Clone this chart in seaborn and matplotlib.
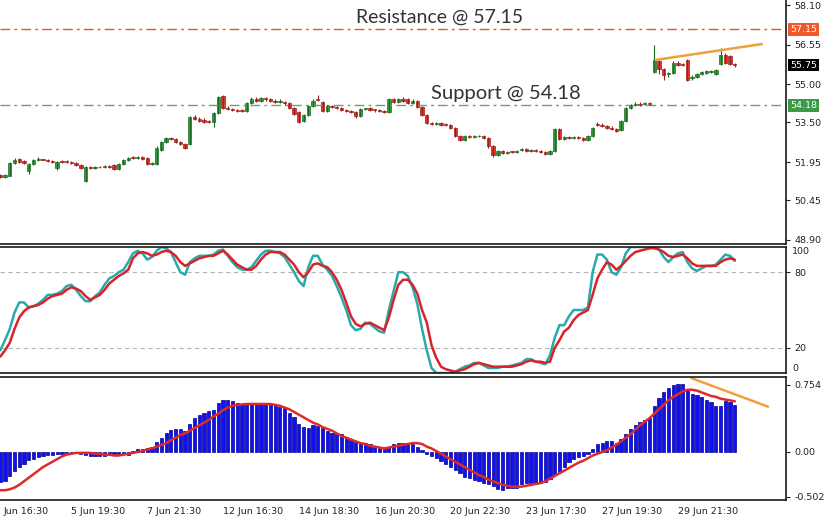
import matplotlib
matplotlib.use('Agg')
import matplotlib.pyplot as plt
import matplotlib.transforms as mtransforms
import numpy as np
import seaborn as sns

# Candles (2h bars)
open_ = [
    51.46, 51.38, 51.42, 51.90, 52.06, 51.98, 51.60, 51.86, 52.02, 52.06,
    52.04, 51.98, 51.70, 52.00, 51.98, 51.94, 51.90, 51.84, 51.22, 51.76,
    51.72, 51.76, 51.74, 51.80, 51.84, 51.66, 51.86, 52.04, 52.12, 52.10,
    52.14, 52.10, 51.88, 51.86, 52.42, 52.74, 52.90, 52.84, 52.74, 52.64,
    52.64, 53.72, 53.62, 53.60, 53.54, 53.50, 53.86, 54.52, 54.08, 54.04,
    54.00, 53.98, 53.96, 54.26, 54.40, 54.36, 54.44, 54.42, 54.36, 54.30,
    54.32, 54.26, 54.06, 53.92, 53.54, 53.80, 54.14, 54.40, 54.30, 53.96,
    54.14, 54.10, 54.06, 54.00, 53.96, 53.92, 53.74, 54.02, 54.06, 54.00,
    53.98, 53.96, 53.90, 54.40, 54.30, 54.42, 54.40, 54.28, 54.34, 54.10,
    53.80, 53.48, 53.44, 53.46, 53.44, 53.40, 53.30, 52.98, 52.82, 52.96,
    52.94, 52.96, 52.98, 52.90, 52.56, 52.24, 52.40, 52.30, 52.36, 52.34,
    52.42, 52.46, 52.40, 52.44, 52.38, 52.34, 52.28, 52.40, 53.24, 52.86,
    52.92, 52.90, 52.94, 52.88, 52.82, 52.96, 53.44, 53.40, 53.36, 53.30,
    53.26, 53.20, 53.56, 54.08, 54.18, 54.24, 54.22, 54.26, 55.48, 55.92,
    55.60, 55.38, 55.44, 55.84, 55.80, 55.94, 55.26, 55.30, 55.40, 55.44,
    55.48, 55.40, 55.80, 56.16, 56.10, 55.80]
close = [
    51.38, 51.44, 51.90, 52.04, 51.96, 51.90, 51.86, 52.04, 52.08, 52.04,
    51.98, 51.94, 51.96, 51.96, 51.94, 51.90, 51.84, 51.72, 51.76, 51.72,
    51.76, 51.74, 51.78, 51.76, 51.66, 51.86, 52.04, 52.12, 52.10, 52.14,
    52.08, 51.88, 51.90, 52.52, 52.72, 52.90, 52.84, 52.74, 52.64, 52.50,
    53.70, 53.62, 53.56, 53.52, 53.50, 53.86, 54.50, 54.08, 54.02, 53.98,
    53.96, 53.96, 54.26, 54.40, 54.36, 54.44, 54.40, 54.36, 54.30, 54.32,
    54.26, 54.06, 53.84, 53.52, 53.80, 54.14, 54.36, 54.38, 53.96, 54.14,
    54.10, 54.08, 54.00, 53.96, 53.90, 53.74, 54.02, 54.04, 54.00, 53.98,
    53.94, 53.90, 54.40, 54.30, 54.42, 54.36, 54.28, 54.34, 54.10, 53.80,
    53.48, 53.44, 53.46, 53.42, 53.40, 53.30, 52.98, 52.80, 52.96, 52.94,
    52.96, 52.98, 52.90, 52.56, 52.22, 52.40, 52.30, 52.36, 52.34, 52.40,
    52.46, 52.40, 52.44, 52.38, 52.34, 52.26, 52.40, 53.26, 52.84, 52.92,
    52.90, 52.94, 52.88, 52.80, 52.96, 53.30, 53.40, 53.36, 53.30, 53.24,
    53.18, 53.56, 54.06, 54.18, 54.22, 54.20, 54.26, 54.22, 55.96, 55.60,
    55.36, 55.42, 55.84, 55.76, 55.74, 55.18, 55.28, 55.40, 55.46, 55.50,
    55.52, 55.56, 56.14, 55.84, 55.78, 55.75]
high = [
    51.50, 51.48, 51.95, 52.10, 52.12, 52.02, 51.90, 52.08, 52.14, 52.08,
    52.08, 52.02, 52.00, 52.04, 52.02, 51.98, 51.94, 51.88, 51.80, 51.80,
    51.80, 51.80, 51.82, 51.84, 51.88, 51.90, 52.08, 52.16, 52.20, 52.18,
    52.18, 52.14, 51.94, 52.56, 52.76, 52.94, 52.94, 52.88, 52.78, 52.68,
    53.74, 53.78, 53.70, 53.66, 53.60, 53.90, 54.54, 54.56, 54.14, 54.08,
    54.04, 54.02, 54.30, 54.50, 54.48, 54.48, 54.50, 54.46, 54.42, 54.40,
    54.36, 54.30, 54.10, 53.96, 53.84, 54.18, 54.40, 54.58, 54.34, 54.18,
    54.18, 54.14, 54.10, 54.04, 54.00, 53.96, 54.06, 54.08, 54.12, 54.04,
    54.02, 54.00, 54.44, 54.46, 54.46, 54.50, 54.44, 54.40, 54.38, 54.14,
    53.84, 53.52, 53.50, 53.50, 53.48, 53.44, 53.34, 53.02, 53.00, 53.00,
    53.00, 53.02, 53.02, 52.94, 52.60, 52.44, 52.44, 52.40, 52.40, 52.44,
    52.52, 52.50, 52.48, 52.48, 52.42, 52.38, 52.44, 53.30, 53.28, 52.96,
    52.96, 52.98, 52.98, 52.92, 53.00, 53.34, 53.50, 53.46, 53.40, 53.36,
    53.30, 53.60, 54.10, 54.22, 54.30, 54.30, 54.30, 54.30, 56.52, 55.96,
    55.64, 55.48, 55.90, 55.90, 55.84, 55.98, 55.36, 55.44, 55.50, 55.54,
    55.56, 55.60, 56.40, 56.22, 56.14, 55.84]
low = [
    51.32, 51.34, 51.40, 51.86, 51.92, 51.86, 51.50, 51.82, 51.98, 52.02,
    51.94, 51.90, 51.62, 51.92, 51.90, 51.86, 51.80, 51.68, 51.16, 51.68,
    51.68, 51.70, 51.70, 51.72, 51.62, 51.62, 51.82, 52.00, 52.06, 52.06,
    52.04, 51.84, 51.84, 51.82, 52.38, 52.70, 52.80, 52.70, 52.60, 52.46,
    52.60, 53.58, 53.52, 53.46, 53.46, 53.34, 53.82, 54.04, 53.98, 53.94,
    53.92, 53.92, 53.92, 54.22, 54.32, 54.32, 54.36, 54.32, 54.26, 54.26,
    54.20, 54.02, 53.80, 53.46, 53.50, 53.76, 54.10, 54.34, 53.92, 53.92,
    54.06, 54.04, 53.96, 53.92, 53.86, 53.68, 53.70, 53.98, 53.96, 53.92,
    53.90, 53.86, 53.86, 54.26, 54.26, 54.32, 54.24, 54.24, 54.06, 53.76,
    53.44, 53.40, 53.40, 53.38, 53.36, 53.26, 52.94, 52.76, 52.78, 52.90,
    52.90, 52.92, 52.86, 52.52, 52.16, 52.20, 52.26, 52.26, 52.30, 52.30,
    52.38, 52.36, 52.36, 52.34, 52.30, 52.22, 52.24, 52.36, 52.80, 52.82,
    52.86, 52.86, 52.84, 52.76, 52.78, 52.92, 53.36, 53.32, 53.26, 53.20,
    53.14, 53.16, 53.52, 54.04, 54.14, 54.16, 54.18, 54.18, 55.44, 55.40,
    55.16, 55.30, 55.40, 55.72, 55.70, 55.12, 55.18, 55.26, 55.36, 55.40,
    55.44, 55.36, 55.76, 55.80, 55.74, 55.68]

# Stochastic: main (teal) and signal (red)
stoch_k = [
    18, 26, 35, 48, 56, 56, 52, 53, 55, 58,
    62, 62, 63, 65, 69, 70, 66, 61, 57, 57,
    61, 64, 70, 75, 77, 80, 82, 88, 95, 97,
    95, 90, 92, 97, 100, 99, 96, 88, 80, 78,
    88, 91, 93, 93, 93, 94, 97, 98, 93, 88,
    84, 82, 82, 84, 89, 94, 97, 97, 96, 95,
    92, 86, 80, 73, 69, 84, 93, 93, 86, 82,
    77, 69, 60, 50, 38, 34, 35, 40, 39, 36,
    33, 32, 50, 65, 80, 80, 77, 68, 55, 35,
    18, 4, 0, 0, 0, 0, 1, 3, 5, 6,
    8, 8, 6, 4, 4, 4, 5, 5, 6, 7,
    8, 11, 11, 9, 8, 7, 14, 28, 38, 38,
    45, 50, 50, 50, 52, 80, 94, 94, 90, 80,
    78, 84, 95, 100, 100, 100, 100, 100, 100, 98,
    92, 88, 92, 95, 96, 88, 83, 81, 83, 85,
    85, 86, 90, 94, 93, 89]
stoch_d = [
    13, 18, 24, 35, 44, 49, 52, 53, 54, 56,
    59, 61, 62, 63, 66, 68, 67, 65, 61, 58,
    60, 62, 66, 71, 74, 77, 79, 82, 91, 95,
    96, 95, 93, 94, 96, 97, 96, 93, 88, 85,
    87, 89, 91, 92, 93, 93, 95, 97, 94, 90,
    86, 84, 82, 82, 85, 90, 94, 96, 96, 96,
    94, 90, 86, 80, 76, 80, 86, 87, 85, 84,
    80, 74, 66, 56, 45, 39, 37, 39, 40, 38,
    36, 34, 44, 58, 70, 74, 74, 70, 63, 50,
    40, 22, 12, 5, 3, 2, 1, 2, 3, 5,
    7, 8, 7, 6, 5, 5, 5, 5, 5, 6,
    7, 9, 10, 9, 9, 8, 9, 20, 26, 33,
    36, 42, 46, 48, 50, 62, 75, 82, 88, 86,
    82, 85, 89, 93, 96, 97, 98, 99, 99, 98,
    96, 93, 92, 93, 94, 91, 87, 85, 85, 85,
    85, 85, 88, 90, 91, 90]

# MACD histogram (blue) and signal (red)
macd_hist = [
    -0.34, -0.33, -0.27, -0.21, -0.17, -0.13, -0.09, -0.075, -0.06, -0.04,
    -0.03, -0.03, -0.02, -0.02, -0.015, -0.01, -0.01, -0.02, -0.03, -0.04,
    -0.05, -0.04, -0.04, -0.03, -0.03, -0.03, -0.02, -0.03, 0.01, 0.03,
    0.03, 0.05, 0.06, 0.11, 0.16, 0.21, 0.25, 0.26, 0.26, 0.24,
    0.32, 0.38, 0.42, 0.44, 0.46, 0.47, 0.55, 0.59, 0.59, 0.57,
    0.55, 0.54, 0.54, 0.54, 0.54, 0.54, 0.54, 0.54, 0.53, 0.51,
    0.49, 0.44, 0.39, 0.32, 0.28, 0.27, 0.30, 0.29, 0.27, 0.24,
    0.21, 0.21, 0.20, 0.17, 0.14, 0.11, 0.10, 0.10, 0.09, 0.06,
    0.05, 0.05, 0.06, 0.09, 0.10, 0.10, 0.10, 0.09, 0.06, 0.02,
    -0.02, -0.04, -0.07, -0.10, -0.14, -0.17, -0.20, -0.24, -0.28, -0.29,
    -0.31, -0.33, -0.35, -0.36, -0.38, -0.42, -0.43, -0.41, -0.41, -0.40,
    -0.36, -0.35, -0.35, -0.35, -0.35, -0.34, -0.30, -0.26, -0.22, -0.17,
    -0.11, -0.08, -0.06, -0.04, -0.02, 0.03, 0.09, 0.10, 0.12, 0.12,
    0.10, 0.15, 0.20, 0.26, 0.30, 0.34, 0.36, 0.38, 0.52, 0.61,
    0.67, 0.72, 0.75, 0.76, 0.76, 0.71, 0.65, 0.64, 0.62, 0.58,
    0.56, 0.52, 0.52, 0.57, 0.56, 0.53]
macd_signal = [
    -0.43, -0.43, -0.42, -0.40, -0.37, -0.33, -0.29, -0.25, -0.21, -0.17,
    -0.14, -0.11, -0.08, -0.05, -0.03, -0.02, -0.01, -0.01, -0.01, -0.01,
    -0.02, -0.02, -0.03, -0.03, -0.04, -0.04, -0.03, -0.02, -0.01, 0.00,
    0.01, 0.03, 0.04, 0.06, 0.08, 0.10, 0.13, 0.16, 0.19, 0.21,
    0.24, 0.27, 0.30, 0.33, 0.36, 0.40, 0.43, 0.47, 0.50, 0.52,
    0.53, 0.535, 0.54, 0.54, 0.54, 0.54, 0.54, 0.54, 0.53, 0.52,
    0.50, 0.48, 0.45, 0.42, 0.39, 0.36, 0.33, 0.31, 0.28, 0.26,
    0.24, 0.21, 0.18, 0.16, 0.14, 0.12, 0.10, 0.09, 0.07, 0.06,
    0.05, 0.04, 0.05, 0.06, 0.07, 0.08, 0.09, 0.10, 0.10, 0.09,
    0.06, 0.04, 0.01, -0.02, -0.05, -0.08, -0.11, -0.14, -0.17, -0.20,
    -0.23, -0.26, -0.28, -0.31, -0.33, -0.35, -0.37, -0.38, -0.39, -0.39,
    -0.39, -0.38, -0.37, -0.36, -0.35, -0.33, -0.30, -0.27, -0.24, -0.21,
    -0.18, -0.15, -0.12, -0.10, -0.07, -0.04, -0.02, 0.00, 0.02, 0.05,
    0.08, 0.12, 0.16, 0.20, 0.25, 0.30, 0.34, 0.38, 0.43, 0.48,
    0.53, 0.58, 0.62, 0.65, 0.68, 0.70, 0.70, 0.69, 0.67, 0.65,
    0.63, 0.62, 0.60, 0.59, 0.58, 0.57]

# levels, trend lines and axis labels
resistance = 57.15
support = 54.18
last_price = 55.75
price_trend_x = [138.3, 160.7]
price_trend_y = [55.95, 56.57]
macd_trend_x = [145.9, 162.0]
macd_trend_y = [0.83, 0.51]
price_ticks = [58.10, 56.55, 55.00, 53.50, 51.95, 50.45, 48.90]
macd_ticks = [0.754, 0.00, -0.502]
# first label is cut by the left edge in the original, only its visible part is kept
date_pos = [0.6, 15, 31, 47, 63, 79, 95, 111, 127, 143]
date_labels = ['Jun 16:30', '5 Jun 19:30', '7 Jun 21:30', '12 Jun 16:30',
               '14 Jun 18:30', '16 Jun 20:30', '20 Jun 22:30', '23 Jun 17:30',
               '27 Jun 19:30', '29 Jun 21:30']

sns.set_style('white')
plt.rcParams['font.family'] = ['DejaVu Sans']

bull, bear = '#2f9e3a', '#e0322b'
label_size = 6.8
idx = np.arange(len(close))
o = np.array(open_)
c = np.array(close)

fig = plt.figure(figsize=(8.27, 5.20), dpi=100)
ax_p = fig.add_axes([0.0, 0.5308, 0.9504, 0.4692])
ax_s = fig.add_axes([0.0, 0.2827, 0.9504, 0.2423])
ax_m = fig.add_axes([0.0, 0.0385, 0.9504, 0.2365])

# --- price panel with candles
ax_p.axhline(resistance, color='#e4572e', lw=1, ls=(0, (7, 3, 2, 3)))
ax_p.axhline(support, color='#6f9f6f', lw=1, ls=(0, (7, 3, 2, 3)))
up = c >= o
cols = np.where(up, bull, bear)
edges = np.where(up, '#1d6b24', '#9c1f1a')
ax_p.vlines(idx, low, high, colors=edges, lw=0.8)
body = np.maximum(np.abs(c - o), 0.03)
ax_p.bar(idx, body, bottom=np.minimum(o, c), width=0.7, color=cols,
         edgecolor=edges, linewidth=0.5)
ax_p.plot(price_trend_x, price_trend_y, color='#f0a03a', lw=1.8)
ax_p.set_ylim(48.742, 58.296)
ax_p.text(92.8, 57.62, 'Resistance @ 57.15', fontsize=14, family='Lato',
          color='#333333', ha='center', va='center')
ax_p.text(106.7, 54.65, 'Support @ 54.18', fontsize=14.6, family='Lato',
          color='#333333', ha='center', va='center')
ax_p.set_yticks(price_ticks, [f'{v:.2f}' for v in price_ticks])
trans = mtransforms.blended_transform_factory(ax_p.transAxes, ax_p.transData)
for val, fc in [(resistance, '#ef5a2b'), (last_price, '#000000'), (support, '#3a9a45')]:
    ax_p.text(1.005, val, f'{val:.2f}', transform=trans, fontsize=label_size,
              color='white', ha='left', va='center',
              bbox=dict(boxstyle='square,pad=0.2', fc=fc, ec='none'))

# --- stochastic panel
ax_s.axhline(80, color='#b5b5b5', lw=0.8, ls=(0, (4, 3)))
ax_s.axhline(20, color='#b5b5b5', lw=0.8, ls=(0, (4, 3)))
sns.lineplot(x=idx, y=stoch_k, color='#2aa9a9', linewidth=1.8, ax=ax_s)
sns.lineplot(x=idx, y=stoch_d, color='#d8232a', linewidth=1.8, ax=ax_s)
ax_s.set_ylim(0, 100)
ax_s.set_yticks([80, 20], ['80', '20'])
ax_s.text(1.008, 1.0, '100', transform=ax_s.transAxes, fontsize=label_size,
          ha='left', va='top', color='#222222')
ax_s.text(1.008, 0.0, '0', transform=ax_s.transAxes, fontsize=label_size,
          ha='left', va='bottom', color='#222222')

# --- MACD panel
sns.barplot(x=idx, y=macd_hist, native_scale=True, color='#1010f2', width=0.68,
            saturation=1, edgecolor='#000090', linewidth=0.5, errorbar=None, ax=ax_m)
sns.lineplot(x=idx, y=macd_signal, color='#dd2a2a', linewidth=1.8, ax=ax_m)
ax_m.plot(macd_trend_x, macd_trend_y, color='#f0a03a', lw=1.8)
ax_m.set_ylim(-0.540, 0.8436)
ax_m.set_yticks(macd_ticks, ['0.754', '0.00', '-0.502'])
ax_m.set_xticks(date_pos[1:], [''] * (len(date_pos) - 1))
xtrans = mtransforms.blended_transform_factory(ax_m.transData, ax_m.transAxes)
for pos, lab in zip(date_pos, date_labels):
    ax_m.text(pos, -0.09, lab, transform=xtrans, fontsize=label_size,
              ha='left', va='center', color='#222222', clip_on=False)

for ax in (ax_p, ax_s, ax_m):
    ax.set_xlim(-0.06, 165.8)
    ax.set_xlabel('')
    ax.set_ylabel('')
    ax.yaxis.tick_right()
    ax.tick_params(axis='y', direction='out', length=3, width=0.8, pad=3,
                   labelsize=label_size, colors='#222222')
    ax.spines['left'].set_visible(False)
    for s in ('top', 'bottom', 'right'):
        ax.spines[s].set_color('#1a1a1a')
        ax.spines[s].set_linewidth(1.2)
for ax in (ax_p, ax_s):
    ax.set_xticks([])
ax_p.spines['top'].set_visible(False)
ax_m.tick_params(axis='x', direction='out', length=3, width=0.8, colors='#222222')

fig.savefig('out.png', dpi=100)
